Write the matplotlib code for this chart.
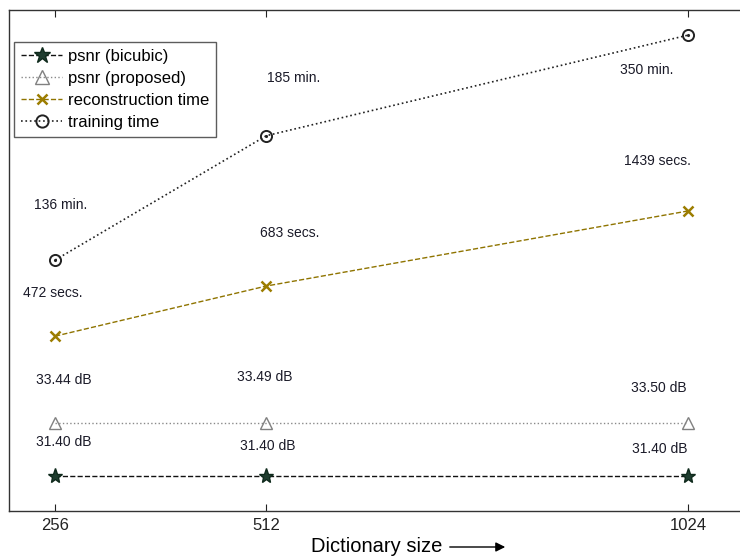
import matplotlib
matplotlib.use("Agg")
import matplotlib.pyplot as plt

plt.rcParams['font.family'] = ['Liberation Sans', 'DejaVu Sans']

# Data
dict_sizes = [256, 512, 1024]
xtick_labels = ['256', '512', '1024']
# plotted levels (arbitrary, unlabeled y-scale)
psnr_bicubic_lvl = [0.70, 0.70, 0.70]
psnr_proposed_lvl = [1.76, 1.76, 1.76]
recon_time_lvl = [3.49, 4.49, 5.99]
train_time_lvl = [5.01, 7.49, 9.50]

series_names = ['psnr (bicubic)', 'psnr (proposed)', 'reconstruction time', 'training time']

# annotation texts and positions (data coords)
train_labels = ['136 min.', '185 min.', '350 min.']
train_lab_x = [263, 545, 974]
train_lab_y = [6.11, 8.64, 8.80]
recon_labels = ['472 secs.', '683 secs.', '1439 secs.']
recon_lab_x = [253, 540, 986]
recon_lab_y = [4.35, 5.55, 6.99]
prop_labels = ['33.44 dB', '33.49 dB', '33.50 dB']
prop_lab_x = [267, 510, 988]
prop_lab_y = [2.61, 2.67, 2.46]
bic_labels = ['31.40 dB', '31.40 dB', '31.40 dB']
bic_lab_x = [267, 514, 989]
bic_lab_y = [1.38, 1.30, 1.23]

fig = plt.figure(figsize=(7.40, 5.56), dpi=100)
ax = fig.add_axes([9/740, 45/556, 742/740, 501/556])

ax.plot(dict_sizes, psnr_bicubic_lvl, linestyle='--', color='#111111', lw=1.0,
        marker='*', markersize=11, markerfacecolor='#1f3d2f', markeredgecolor='#0f2a1c',
        label=series_names[0])
ax.plot(dict_sizes, psnr_proposed_lvl, linestyle=':', color='#8a8a8a', lw=1.0,
        marker='^', markersize=9, markerfacecolor='none', markeredgecolor='#808080',
        label=series_names[1])
ax.plot(dict_sizes, recon_time_lvl, linestyle='--', color='#8f7400', lw=1.0,
        marker='x', markersize=7, markeredgewidth=1.8, markeredgecolor='#9c7d00',
        label=series_names[2])
ax.plot(dict_sizes, train_time_lvl, linestyle=':', color='#222222', lw=1.2,
        marker='o', markersize=8, markerfacecolor='none', markeredgecolor='#222222',
        markeredgewidth=1.4, label=series_names[3])
ax.plot(dict_sizes, train_time_lvl, linestyle='none', marker='.', markersize=2.5,
        color='#222222')

for labs, xs, ys in [(train_labels, train_lab_x, train_lab_y),
                     (recon_labels, recon_lab_x, recon_lab_y),
                     (prop_labels, prop_lab_x, prop_lab_y),
                     (bic_labels, bic_lab_x, bic_lab_y)]:
    for t, x, y in zip(labs, xs, ys):
        ax.text(x, y, t, ha='center', va='center', fontsize=10, color='#1a1a28')

ax.set_xlim(200, 1100)
ax.set_ylim(0, 10)
ax.set_xticks(dict_sizes)
ax.set_xticklabels(xtick_labels, fontsize=12)
ax.set_yticks([])
ax.tick_params(axis='x', direction='in', length=5, top=True, bottom=True, pad=5,
               colors='#222222')
for s in ax.spines.values():
    s.set_color('#333333')
    s.set_linewidth(1.0)

leg = ax.legend(loc='upper left', bbox_to_anchor=(5/742, 1 - 32/501), fontsize=12,
                frameon=True, fancybox=False, handlelength=2.5, handletextpad=0.36,
                borderpad=0.4, labelspacing=0.43, borderaxespad=0, markerscale=1.1)
leg.get_frame().set_edgecolor('#333333')
leg.get_frame().set_linewidth(1.0)

fig.text(377/740, 1 - 546/556, 'Dictionary size', ha='center', va='center', fontsize=14.5)
fig.patches.append(matplotlib.patches.FancyArrowPatch(
    (447/740, 1 - 547/556), (508/740, 1 - 547/556), transform=fig.transFigure,
    arrowstyle='-|>', mutation_scale=14, color='black', lw=1.0))

fig.savefig('out.png', dpi=100)
